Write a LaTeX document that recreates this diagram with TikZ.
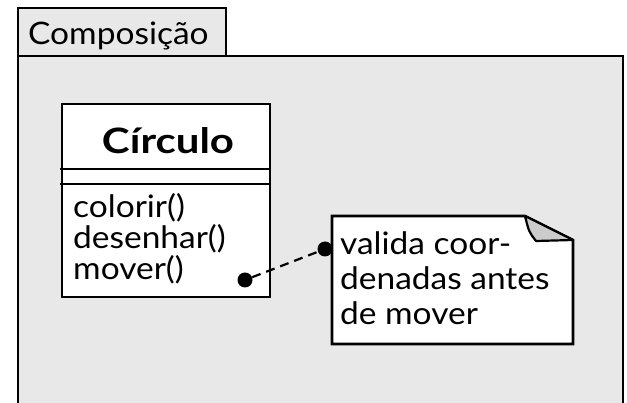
\documentclass[tikz,border=0pt]{standalone}
\usepackage{fontspec}
\setmainfont{Lato}[FakeStretch=1.08]
\newfontfamily\titlefont{Lato}[FakeStretch=1.2]
\usetikzlibrary{positioning}
\definecolor{framefill}{RGB}{232,232,232}
\definecolor{foldfill}{RGB}{204,204,204}
\tikzset{
  frm/.style ={draw=black, line width=2.6pt, fill=framefill},
  box/.style ={draw=black, line width=2.6pt, fill=white},
  sep/.style ={draw=black, line width=2.6pt},
  flap/.style={draw=black, line width=2.2pt, fill=foldfill, line join=round},
  txt/.style ={anchor=base west, inner sep=0pt, font=\fontsize{31}{32}\selectfont},
  ttl/.style ={anchor=base, inner sep=0pt, font=\titlefont\fontsize{35}{36}\selectfont\bfseries},
  pin/.style ={circle, fill=black, inner sep=0pt, minimum size=15pt},
  lnk/.style ={draw=black, line width=2.2pt, dash pattern=on 9pt off 6pt},
}
\begin{document}
\begin{tikzpicture}[x=1pt,y=-1pt]
  \useasboundingbox (0,0) rectangle (627,403);
  \clip (0,0) rectangle (627,403);
  % package
  \draw[frm] (18,56) rectangle (623,430);
  \draw[frm] (18,8) rectangle (226,56);
  \node[txt] (pkg) at (28,45) {Composição};
  % class
  \draw[box] (62,104) rectangle (270,297);
  \node[ttl] (cls) at (168,154) {Círculo};
  \draw[sep] (60,169) -- (269,169);
  \draw[sep] (60,184) -- (269,184);
  \node[txt] (op1) at (73,218) {colorir()};
  \node[txt] (op2) at (73,249) {desenhar()};
  \node[txt] (op3) at (73,280) {mover()};
  % note
  \draw[box] (332,216) -- (525,216) -- (573,240) -- (573,344) -- (332,344) -- cycle;
  \draw[flap] (525,216) .. controls (529,232) .. (536,241) -- (573,240) -- cycle;
  \node[txt] (nt1) at (340,255) {valida coor-};
  \node[txt] (nt2) at (340,290) {denadas antes};
  \node[txt] (nt3) at (340,325) {de mover};
  % anchor link
  \node[pin] (dotA) at (245,280) {};
  \node[pin] (dotB) at (325,249) {};
  \draw[lnk] (dotA) -- (dotB);
\end{tikzpicture}
\end{document}
